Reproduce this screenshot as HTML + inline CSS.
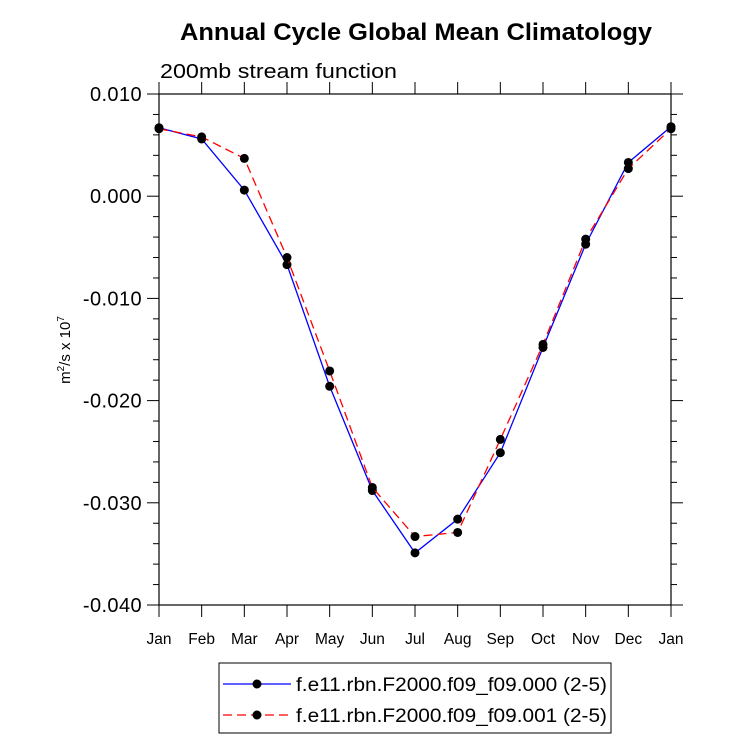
<!DOCTYPE html>
<html><head><meta charset="utf-8"><style>
body{margin:0;background:#fff}
svg{display:block;font-family:"Liberation Sans",sans-serif}
</style></head><body>
<svg id="chart" width="733" height="754">
<text x="416" y="40" text-anchor="middle" font-size="24" font-weight="bold" textLength="472" lengthAdjust="spacingAndGlyphs">Annual Cycle Global Mean Climatology</text>
<text x="160" y="78" font-size="20" textLength="237" lengthAdjust="spacingAndGlyphs">200mb stream function</text>
<text transform="translate(70,350) rotate(-90)" text-anchor="middle" font-size="15">m<tspan dy="-6" font-size="10">2</tspan><tspan dy="6">/s x 10</tspan><tspan dy="-6" font-size="10">7</tspan></text>
<g id="axes"></g>
<g id="series"></g>
<rect x="219" y="663" width="392" height="70" fill="none" stroke="#000" stroke-width="1"/>
<g>
<line x1="223" y1="684" x2="291" y2="684" stroke="#0000ff" stroke-width="1.3"/>
<circle cx="257" cy="684" r="4.5" fill="#000"/>
<text x="296" y="691" font-size="19" textLength="311" lengthAdjust="spacingAndGlyphs">f.e11.rbn.F2000.f09_f09.000 (2-5)</text>
</g>
<g>
<line x1="223" y1="715" x2="291" y2="715" stroke="#ff0000" stroke-width="1.3" stroke-dasharray="9,5"/>
<circle cx="257" cy="715" r="4.5" fill="#000"/>
<text x="296" y="722" font-size="19" textLength="311" lengthAdjust="spacingAndGlyphs">f.e11.rbn.F2000.f09_f09.001 (2-5)</text>
</g>
</svg>
<script>
const months = ["Jan","Feb","Mar","Apr","May","Jun","Jul","Aug","Sep","Oct","Nov","Dec","Jan"];
const series000 = [0.0067,0.0056,0.0006,-0.0067,-0.0186,-0.0288,-0.0349,-0.0316,-0.0251,-0.0148,-0.0047,0.0033,0.0068];
const series001 = [0.0066,0.0058,0.0037,-0.0060,-0.0171,-0.0285,-0.0333,-0.0329,-0.0238,-0.0145,-0.0042,0.0027,0.0066];
const yTicks = [0.010,0.000,-0.010,-0.020,-0.030,-0.040];
const yTickLabels = ["0.010","0.000","-0.010","-0.020","-0.030","-0.040"];

const L=159,R=671,T=94,B=605,yMax=0.010,yMin=-0.040;
const xs=i=>L+(R-L)*i/(months.length-1);
const ys=v=>T+(yMax-v)/(yMax-yMin)*(B-T);
const NS="http://www.w3.org/2000/svg";
function mk(tag,attrs,parent){const e=document.createElementNS(NS,tag);for(const k in attrs)e.setAttribute(k,attrs[k]);parent.appendChild(e);return e;}
const ax=document.getElementById('axes');
const frame=mk('rect',{x:L,y:T,width:R-L,height:B-T,fill:'none',stroke:'#000','stroke-width':1.2},ax);


for(let v=yMin;v<=yMax+1e-9;v+=0.002){
  const y=ys(v);const major=Math.abs(Math.round(v/0.002)%5)===0;
  const len=major?12:6;
  mk('line',{x1:L-len,y1:y,x2:L,y2:y,stroke:'#000','stroke-width':1},ax);
  mk('line',{x1:R,y1:y,x2:R+len,y2:y,stroke:'#000','stroke-width':1},ax);
}
yTicks.forEach((v,i)=>{
  const t=mk('text',{x:L-17,y:ys(v)+7,'text-anchor':'end','font-size':20,'letter-spacing':0.4},ax);
  t.textContent=yTickLabels[i];
  
  
});
months.forEach((m,i)=>{
  const x=xs(i);
  mk('line',{x1:x,y1:B,x2:x,y2:B+12,stroke:'#000','stroke-width':1},ax);
  mk('line',{x1:x,y1:T,x2:x,y2:T-12,stroke:'#000','stroke-width':1},ax);
  const t=mk('text',{x:x,y:B+39,'text-anchor':'middle','font-size':15.5},ax);
  t.textContent=m;
  
  
});
const sg=document.getElementById('series');
function draw(data,color,dash,name){
  const g=mk('g',{},sg);
  
  
  const pts=data.map((v,i)=>xs(i)+','+ys(v)).join(' ');
  const pl=mk('polyline',{points:pts,fill:'none',stroke:color,'stroke-width':1.3,'stroke-dasharray':dash},g);
  
  
  data.forEach((v,i)=>{
    const c=mk('circle',{cx:xs(i),cy:ys(v),r:4.5,fill:'#000'},g);
    
    
  });
}
draw(series000,'#0000ff','none','series-000');
draw(series001,'#ff0000','9,5','series-001');
</script>
</body></html>
